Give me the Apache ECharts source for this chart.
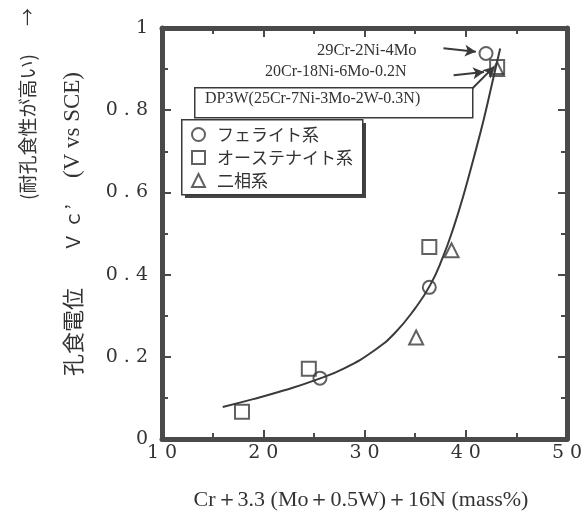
<!DOCTYPE html>
<html>
<head>
<meta charset="utf-8">
<script src="https://cdn.jsdelivr.net/npm/echarts@6/dist/echarts.min.js"></script>
<style>
  html, body { margin: 0; padding: 0; background: #fff; }
  #chart { width: 588px; height: 517px; }
</style>
</head>
<body>
<div id="chart"></div>
<script>
// --- DATA ---
const xTicks = [10, 20, 30, 40, 50];
const yTicks = [0, 0.2, 0.4, 0.6, 0.8, 1];

// measured points [index, potential]
const ferrite = [[25.6, 0.148], [36.4, 0.369], [42.0, 0.938]];
const austenite = [[17.9, 0.066], [24.5, 0.171], [36.4, 0.467], [43.1, 0.905]];
const duplex = [[35.1, 0.247], [38.6, 0.459], [43.1, 0.9]];

// fitted curve
const fitCurve = [
    [16.0, 0.078], [19.0, 0.097], [22.0, 0.118], [25.0, 0.142], [28.0, 0.172],
    [31.0, 0.216], [33.0, 0.258], [35.0, 0.318], [36.5, 0.375], [37.7, 0.440],
    [38.8, 0.515], [39.8, 0.595], [40.8, 0.685], [41.8, 0.780], [42.6, 0.865],
    [43.4, 0.950]
];

// annotation arrows [from, to] in data units
const arrows = [
    [[37.8, 0.951], [41.0, 0.942]],
    [[38.8, 0.885], [41.8, 0.893]],
    [[40.5, 0.849], [42.8, 0.906]]
];

const seriesNames = ['フェライト系', 'オーステナイト系', '二相系'];

// --- STYLE ---
const ink = '#3a3a3a';
const frame = '#4a4a4a';
const serif = '"DejaVu Serif", serif';
const textSerif = '"Liberation Serif", "Times New Roman", serif';
const cjk = '"Noto Sans CJK JP", sans-serif';

const spaced = v => String(+v.toFixed(1)).split('').join(' ');

function axisBase(pos, showLabel) {
    return {
        type: 'value',
        position: pos,
        axisLine: { show: true, onZero: false, lineStyle: { color: frame, width: 5 } },
        axisTick: { show: true, inside: true, length: 9, lineStyle: { color: frame, width: 2 } },
        minorTick: { show: true, splitNumber: 2, length: 6, lineStyle: { color: frame, width: 2 } },
        splitLine: { show: false },
        axisLabel: {
            show: showLabel, color: '#333', fontFamily: serif, fontSize: 19,
            formatter: spaced
        }
    };
}

const xBottom = Object.assign(axisBase('bottom', true), { min: 10, max: 50, interval: 10 });
xBottom.axisLabel.margin = 5;
const xTop = Object.assign(axisBase('top', false), { min: 10, max: 50, interval: 10 });
const yLeft = Object.assign(axisBase('left', true), { min: 0, max: 1, interval: 0.2 });
yLeft.axisLabel.margin = 14;
const yRight = Object.assign(axisBase('right', false), { min: 0, max: 1, interval: 0.2 });

const markerStyle = { color: 'transparent', borderColor: ink, borderWidth: 2 };

function vText(txt, x, y, font) {
    return { type: 'text', x: x, y: y, rotation: Math.PI / 2,
             style: { text: txt, font: font, fill: '#333', align: 'center', verticalAlign: 'middle' } };
}

const chart = echarts.init(document.getElementById('chart'));
chart.setOption({
    backgroundColor: '#fff',
    animation: false,
    grid: { left: 162, right: 21, top: 28, bottom: 78 },
    xAxis: [xBottom, xTop],
    yAxis: [yLeft, yRight],
    legend: {
        orient: 'vertical',
        left: 181, top: 119,
        padding: [7, 10, 6, 10],
        itemWidth: 13, itemHeight: 13,
        itemGap: 6,
        itemStyle: { color: 'transparent', borderColor: ink, borderWidth: 2 },
        textStyle: { fontFamily: cjk, fontSize: 17, color: '#333', lineHeight: 17, padding: [0, 0, 0, 7] },
        z: 12,
        data: [
            { name: seriesNames[0], icon: 'circle' },
            { name: seriesNames[1], icon: 'rect' },
            { name: seriesNames[2], icon: 'triangle' }
        ]
    },
    graphic: [
        // legend box with drop shadow
        { type: 'rect', left: 185, top: 123, shape: { width: 181, height: 75 },
          style: { fill: '#444' }, z: 10 },
        { type: 'rect', left: 181, top: 119, shape: { width: 181, height: 75 },
          style: { fill: '#fff', stroke: ink, lineWidth: 1.5 }, z: 11 },
        // DP3W label box
        { type: 'rect', left: 194, top: 87, shape: { width: 278, height: 30 },
          style: { fill: '#fff', stroke: ink, lineWidth: 1.5 }, z: 10 },
        { type: 'text', left: 205, top: 91,
          style: { text: 'DP3W(25Cr-7Ni-3Mo-2W-0.3N)', font: '16px ' + textSerif, fill: '#333' }, z: 11 },
        { type: 'text', left: 265, top: 64,
          style: { text: '20Cr-18Ni-6Mo-0.2N', font: '16px ' + textSerif, fill: '#333' }, z: 11 },
        { type: 'text', left: 317, top: 42,
          style: { text: '29Cr-2Ni-4Mo', font: '16.5px ' + textSerif, fill: '#333' }, z: 11 },
        // y axis titles
        vText('孔食電位', 73, 332, '22px ' + cjk),
        vText('Ｖ ｃ’', 73, 228, '19px ' + cjk),
        vText('(V vs SCE)', 73, 125, '23px ' + textSerif),
        vText('(耐孔食性が高い)', 28, 127, '19px ' + cjk),
        vText('→', 27, 17, '18px ' + cjk),
        // x axis title
        { type: 'text', x: 361, y: 500,
          style: { text: 'Cr＋3.3 (Mo＋0.5W)＋16N (mass%)', font: '22px ' + textSerif, fill: '#333',
                   align: 'center', verticalAlign: 'middle' } }
    ],
    series: [
        {
            name: 'fit', type: 'line', data: fitCurve, smooth: 0.5,
            showSymbol: false, silent: true,
            lineStyle: { color: ink, width: 2 },
            markLine: {
                silent: true, symbol: ['none', 'arrow'], symbolSize: [9, 11],
                lineStyle: { type: 'solid', color: ink, width: 2 },
                label: { show: false },
                data: arrows.map(a => [{ coord: a[0] }, { coord: a[1] }])
            },
            z: 3
        },
        { name: seriesNames[0], type: 'scatter', data: ferrite, symbol: 'circle', symbolSize: 13,
          itemStyle: markerStyle, z: 4 },
        { name: seriesNames[1], type: 'scatter', data: austenite, symbol: 'rect', symbolSize: 14,
          itemStyle: markerStyle, z: 4 },
        { name: seriesNames[2], type: 'scatter', data: duplex, symbol: 'triangle', symbolSize: 14,
          itemStyle: markerStyle, z: 4 }
    ]
});
</script>
</body>
</html>
